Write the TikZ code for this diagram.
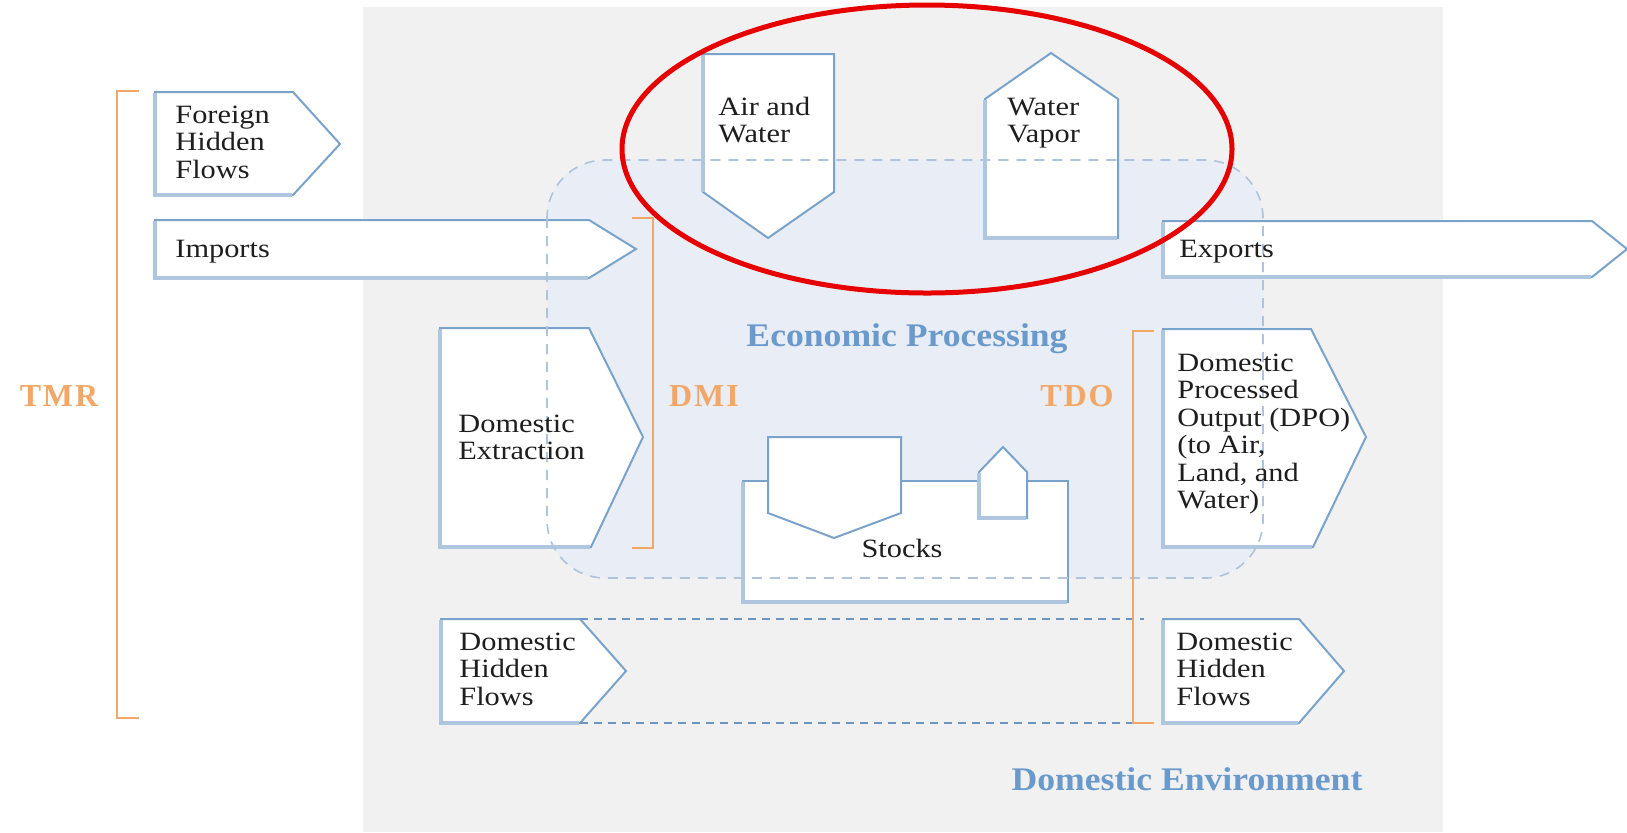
\documentclass[tikz,border=0pt]{standalone}
\usepackage{fontspec}
\setmainfont{Liberation Serif}[FakeStretch=1.15]
\newfontfamily\lblfont{Liberation Serif}[FakeStretch=1.08]
\newfontfamily\acrfont{Liberation Serif}[LetterSpace=6]
\definecolor{boxblue}{HTML}{7AA3CC}
\definecolor{edgelight}{HTML}{AFC6DF}
\definecolor{dashlight}{HTML}{AFC3DC}
\definecolor{dashdark}{HTML}{6D95C4}
\definecolor{bggray}{HTML}{F1F1F1}
\definecolor{procfill}{HTML}{E9EEF6}
\definecolor{orangec}{HTML}{F2A766}
\definecolor{lblblue}{HTML}{6A9ACB}
\definecolor{txtdark}{HTML}{1E1E1E}
\definecolor{redc}{HTML}{E60000}
\newcommand\mlines[1]{\begin{tabular}[t]{@{}l@{}}#1\end{tabular}}
\tikzset{
  flowbox/.style={draw=boxblue, line width=1pt, fill=white, line join=miter},
  softedge/.style={draw=edgelight, line width=1.7pt, line join=miter},
  boxtext/.style={inner sep=0pt, anchor=base west, text=txtdark, font=\fontsize{13.2}{13.75}\selectfont},
  bracketline/.style={draw=orangec, line width=1pt},
  acrlabel/.style={inner sep=0pt, anchor=base, text=orangec, font=\acrfont\bfseries\fontsize{16}{18}\selectfont},
  bluelabel/.style={inner sep=0pt, anchor=base, text=lblblue, font=\lblfont\bfseries\fontsize{16.5}{18}\selectfont},
  hiddendash/.style={draw=dashdark, line width=0.8pt, dash pattern=on 4pt off 3pt},
  procdash/.style={draw=dashlight, line width=0.8pt, dash pattern=on 5pt off 4pt}
}
\begin{document}
\begin{tikzpicture}[x=0.5pt,y=-0.5pt]
\useasboundingbox (0,0) rectangle (1627,832);
% domestic environment background
\fill[bggray] (363,7) rectangle (1443,832);
% economic processing area fill
\fill[procfill, rounded corners=29pt] (547,160) rectangle (1263,578);

% flow boxes
\draw[flowbox] (155,92) -- (293,92) -- (340,144) -- (293,195) -- (155,195) -- cycle;
\draw[softedge] (155,93) -- (155,195) -- (292,195);
\draw[flowbox] (155,220) -- (589,220) -- (636,249) -- (589,278) -- (155,278) -- cycle;
\draw[softedge] (155,221) -- (155,278) -- (588,278);
\draw[flowbox] (440,328) -- (589,328) -- (643,437) -- (591,547) -- (440,547) -- cycle;
\draw[softedge] (440,329) -- (440,547) -- (590,547);
\draw[flowbox] (703,54) -- (834,54) -- (834,192) -- (768,238) -- (703,192) -- cycle;
\draw[softedge] (703,55) -- (703,192);
\draw[flowbox] (985,99) -- (1051,53) -- (1118,99) -- (1118,238) -- (985,238) -- cycle;
\draw[softedge] (985,100) -- (985,238) -- (1117,238);
\draw[flowbox] (1163,221) -- (1592,221) -- (1627,249) -- (1592,277) -- (1163,277) -- cycle;
\draw[softedge] (1163,222) -- (1163,277) -- (1591,277);
\draw[flowbox] (1163,329) -- (1311,329) -- (1366,437) -- (1313,547) -- (1163,547) -- cycle;
\draw[softedge] (1163,330) -- (1163,547) -- (1312,547);
% stocks
\draw[flowbox] (743,481) rectangle (1068,602);
\draw[softedge] (743,482) -- (743,602) -- (1067,602);
\draw[flowbox] (768,437) -- (901,437) -- (901,513) -- (834,538) -- (768,513) -- cycle;
\draw[flowbox] (979,472) -- (1003,447) -- (1027,472) -- (1027,518) -- (979,518) -- cycle;
\draw[softedge] (979,473) -- (979,518) -- (1026,518);
% domestic hidden flows
\draw[flowbox] (441,619) -- (580,619) -- (626,671) -- (580,723) -- (441,723) -- cycle;
\draw[softedge] (441,620) -- (441,723) -- (579,723);
\draw[flowbox] (1163,619) -- (1299,619) -- (1344,671) -- (1299,723) -- (1163,723) -- cycle;
\draw[softedge] (1163,620) -- (1163,723) -- (1298,723);

% economic processing dashed outline
\draw[procdash, rounded corners=29pt] (547,160) rectangle (1263,578);

% hidden flow dashed lines
\coordinate (hlt) at (580,619);
\coordinate (hrt) at (1144,619);
\coordinate (hlb) at (580,723);
\coordinate (hrb) at (1133,723);
\draw[hiddendash] (hlt) -- (hrt);
\draw[hiddendash] (hlb) -- (hrb);

% brackets
\draw[bracketline] (139,91) -- (117,91) -- (117,718) -- (139,718);
\draw[bracketline] (632,218) -- (653,218) -- (653,548) -- (632,548);
\draw[bracketline] (1154,331) -- (1133,331) -- (1133,723) -- (1154,723);

% texts
\node[boxtext] (tfhf) at (175,123) {\mlines{Foreign\\Hidden\\Flows}};
\node[boxtext] (timp) at (175,257) {Imports};
\node[boxtext] (tdex) at (458,432) {\mlines{Domestic\\Extraction}};
\node[boxtext] (taw) at (718,115) {\mlines{Air and\\Water}};
\node[boxtext] (twv) at (1007,115) {\mlines{Water\\Vapor}};
\node[boxtext] (texp) at (1179,257) {Exports};
\node[boxtext] (tdpo) at (1177,371) {\mlines{Domestic\\Processed\\Output (DPO)\\(to Air,\\Land, and\\Water)}};
\node[boxtext, anchor=base] (tstk) at (902,557) {Stocks};
\node[boxtext] (tdhl) at (459,650) {\mlines{Domestic\\Hidden\\Flows}};
\node[boxtext] (tdhr) at (1176,650) {\mlines{Domestic\\Hidden\\Flows}};

\node[acrlabel] (ltmr) at (59,406) {TMR};
\node[acrlabel] (ldmi) at (704,406) {DMI};
\node[acrlabel] (ltdo) at (1077,406) {TDO};
\node[bluelabel] (lep) at (907,346) {Economic Processing};
\node[bluelabel] (lde) at (1187,790) {Domestic Environment};

% highlight ellipse
\draw[redc, line width=2.5pt] (927,149) ellipse [x radius=152.5pt, y radius=72pt];
\end{tikzpicture}
\end{document}
